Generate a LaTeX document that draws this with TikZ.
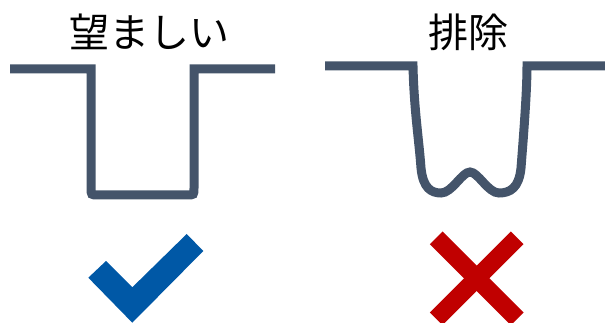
\documentclass[tikz,border=0pt]{standalone}
\usepackage{fontspec}
\usetikzlibrary{calc}
\newfontfamily\cjk{Noto Sans CJK JP}
\definecolor{slate}{HTML}{44546A}
\definecolor{okblue}{HTML}{0058A6}
\definecolor{ngred}{HTML}{C00000}
\begin{document}
\begin{tikzpicture}[x=1pt,y=-1pt,
  title/.style={font=\cjk\fontsize{40}{40}\selectfont, inner sep=0pt, text=black},
  groove/.style={draw=slate, line width=9pt, line join=miter, line cap=butt}]
\useasboundingbox (0,0) rectangle (605,323);
% titles
\node[title] (good) at (149,32) {望ましい};
\node[title] (bad) at (468,32) {排除};
% desirable groove
\draw[groove] (10,69) -- (91,69) -- (91,188)
  .. controls (91,195) and (91,195) .. (98,195)
  -- (187,195)
  .. controls (194,195) and (194,195) .. (194,188)
  -- (194,69) -- (275,69);
% excluded groove
\draw[groove] (325,66) -- (413,66)
  .. controls (414,110) and (419,140) .. (421,168)
  .. controls (423,188) and (431,193) .. (441,193)
  .. controls (452,193) and (462,172) .. (470,172)
  .. controls (478,172) and (488,193) .. (499,193)
  .. controls (510,193) and (519,188) .. (521,168)
  .. controls (524,130) and (527,90) .. (527,66) -- (605,66);
% check mark
\fill[okblue] (88.3,277.7) -- (106,261) -- (132.3,287.3) -- (186.7,234)
  -- (203.3,251) -- (132.3,322.7) -- cycle;
% cross
\coordinate (xc) at (476.7,278.3);
\draw[ngred, line width=18pt] ($(xc)+(-40.5,-40.5)$) -- ($(xc)+(40.5,40.5)$);
\draw[ngred, line width=18pt] ($(xc)+(40.5,-40.5)$) -- ($(xc)+(-40.5,40.5)$);
\end{tikzpicture}
\end{document}
